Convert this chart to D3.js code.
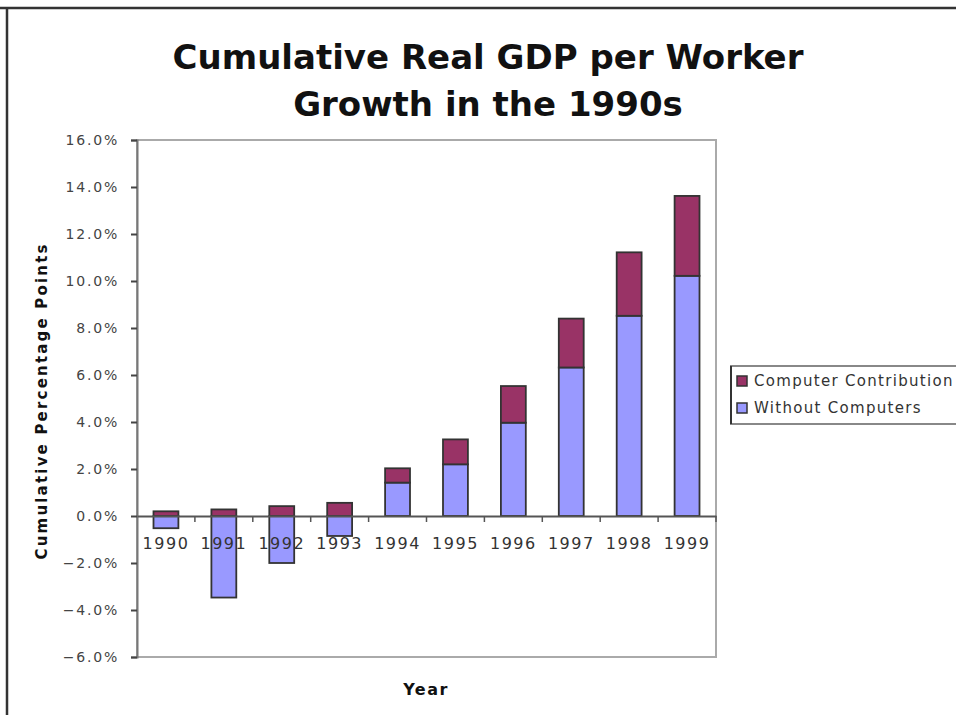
<!DOCTYPE html>
<html><head><meta charset="utf-8">
<script src="https://cdn.jsdelivr.net/npm/d3@7"></script>
<style>body{margin:0;background:#fff;}svg{display:block;}</style>
</head><body>
<svg id="chart" width="956" height="715"></svg>
<script>
const years = ["1990","1991","1992","1993","1994","1995","1996","1997","1998","1999"];
const withoutComputers = [-0.52, -3.47, -2.0, -0.85, 1.42, 2.2, 3.97, 6.32, 8.52, 10.22];
const computerContribution = [0.2, 0.28, 0.42, 0.56, 0.61, 1.06, 1.56, 2.08, 2.7, 3.4];
const yTicks = [-6, -4, -2, 0, 2, 4, 6, 8, 10, 12, 14, 16];
const seriesNames = ["Computer Contribution", "Without Computers"];
const seriesColors = ["#993366", "#9999FF"];

const svg = d3.select("#chart");
const m = {left: 137, right: 716, top: 140, bottom: 657};

// frame lines
svg.append("line").attr("x1", 0).attr("x2", 956).attr("y1", 8).attr("y2", 8).attr("stroke", "#333").attr("stroke-width", 2.5);
svg.append("line").attr("x1", 7).attr("x2", 7).attr("y1", 8).attr("y2", 715).attr("stroke", "#333").attr("stroke-width", 2.5);

// title
const title = svg.append("text").attr("text-anchor", "middle")
  .attr("font-family", "DejaVu Sans").attr("font-weight", "bold").attr("font-size", 34).attr("fill", "#111");
title.append("tspan").attr("x", 488).attr("y", 69).text("Cumulative Real GDP per Worker");
title.append("tspan").attr("x", 488).attr("y", 116).text("Growth in the 1990s");

const x = d3.scaleBand().domain(years).range([m.left, m.right]).paddingInner(0.57).paddingOuter(0.285);
const y = d3.scaleLinear().domain([-6, 16]).range([m.bottom, m.top]);

// plot border (light gray)
svg.append("rect").attr("x", m.left).attr("y", m.top).attr("width", m.right - m.left).attr("height", m.bottom - m.top)
  .attr("fill", "none").attr("stroke", "#aaa").attr("stroke-width", 2);

// y axis
const yAxis = d3.axisLeft(y).tickValues(yTicks).tickSize(6).tickPadding(12)
  .tickFormat(d => d3.format(".1f")(d) + "%");
const ya = svg.append("g").attr("transform", `translate(${m.left},0)`).call(yAxis);
ya.select(".domain").attr("stroke", "#777").attr("stroke-width", 2);
ya.selectAll(".tick line").attr("stroke", "#444").attr("stroke-width", 2);
ya.selectAll(".tick text").attr("font-family", "DejaVu Sans").attr("font-size", 14).attr("letter-spacing", 1.8).attr("fill", "#444");

// bars
const stackData = years.map((yr, i) => ({year: yr, w: withoutComputers[i], c: computerContribution[i]}));
const g = svg.append("g");
stackData.forEach(d => {
  const w0 = Math.min(0, d.w), w1 = Math.max(0, d.w);
  g.append("rect").attr("x", x(d.year)).attr("width", x.bandwidth())
    .attr("y", y(w1)).attr("height", y(w0) - y(w1))
    .attr("fill", seriesColors[1]).attr("stroke", "#333").attr("stroke-width", 1.8);
  const base = Math.max(0, d.w);
  g.append("rect").attr("x", x(d.year)).attr("width", x.bandwidth())
    .attr("y", y(base + d.c)).attr("height", y(base) - y(base + d.c))
    .attr("fill", seriesColors[0]).attr("stroke", "#333").attr("stroke-width", 1.8);
});

// x axis at zero
const xAxis = d3.axisBottom(x).tickSize(0).tickPadding(22);
const xa = svg.append("g").attr("transform", `translate(0,${y(0)})`).call(xAxis);
xa.select(".domain").attr("stroke", "#555").attr("stroke-width", 2);
xa.selectAll(".tick text").attr("font-family", "DejaVu Sans").attr("font-size", 16).attr("letter-spacing", 1.5).attr("fill", "#333");
const step = x.step();
g.selectAll(".xtick").data(years).enter().append("line")
  .attr("x1", d => x(d) + x.bandwidth() / 2 + step / 2).attr("x2", d => x(d) + x.bandwidth() / 2 + step / 2)
  .attr("y1", y(0)).attr("y2", y(0) + 6).attr("stroke", "#555").attr("stroke-width", 1.5);

// axis titles
svg.append("text").attr("x", 426).attr("y", 695).attr("text-anchor", "middle")
  .attr("font-family", "DejaVu Sans").attr("font-weight", "bold").attr("font-size", 16).attr("letter-spacing", 1.5)
  .attr("fill", "#111").text("Year");
svg.append("text").attr("transform", "translate(47,402) rotate(-90)").attr("text-anchor", "middle")
  .attr("font-family", "DejaVu Sans").attr("font-weight", "bold").attr("font-size", 15).attr("fill", "#111")
  .attr("textLength", 315).attr("lengthAdjust", "spacing")
  .text("Cumulative Percentage Points");

// legend
const lg = svg.append("g");
lg.append("rect").attr("x", 731).attr("y", 366).attr("width", 240).attr("height", 58)
  .attr("fill", "#fff").attr("stroke", "#888").attr("stroke-width", 2);
lg.append("line").attr("x1", 731).attr("x2", 731).attr("y1", 366).attr("y2", 424).attr("stroke", "#333").attr("stroke-width", 2);
seriesNames.forEach((n, i) => {
  const yy = 381 + i * 27;
  lg.append("rect").attr("x", 737).attr("y", yy - 5).attr("width", 10).attr("height", 10)
    .attr("fill", seriesColors[i]).attr("stroke", "#333").attr("stroke-width", 1.5);
  lg.append("text").attr("x", 754).attr("y", yy + 5).attr("font-family", "DejaVu Sans").attr("font-size", 15)
    .attr("letter-spacing", 1.3).attr("fill", "#333").text(n);
});
</script>
</body></html>
